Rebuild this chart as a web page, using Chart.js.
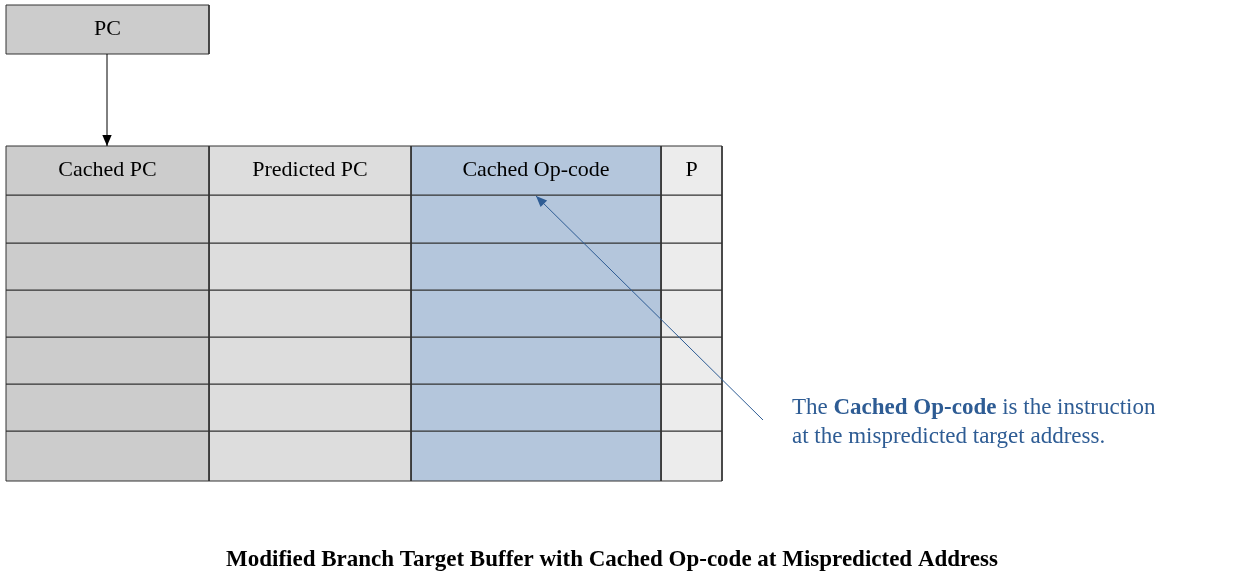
<!DOCTYPE html>
<html><head><meta charset="utf-8">
<script src="https://cdn.jsdelivr.net/npm/chart.js@4/dist/chart.umd.min.js"></script>
<style>body{margin:0;background:#fff}canvas{display:block}</style>
</head><body>
<canvas id="c" width="1242" height="577"></canvas>
<script>
// table geometry (diagram units = pixels of the reference)
const colEdges = [6, 209, 411, 661, 722];
const rowEdges = [146, 195, 243, 290, 337, 384, 431, 481];
const headers = ['Cached PC', 'Predicted PC', 'Cached Op-code', 'P'];
const colColors = ['#cccccc', '#dddddd', '#b4c6dc', '#ececec'];
const pcBox = [6, 5, 209, 54];
const noteLines = [['The ', 'Cached Op-code', ' is the instruction'], ['at the mispredicted target address.']];
const title = 'Modified Branch Target Buffer with Cached Op-code at Mispredicted Address';

function rect(x0, y0, x1, y1, fillColor) {
    return {
        data: [{x:x0,y:y0},{x:x1,y:y0},{x:x1,y:y1},{x:x0,y:y1},{x:x0,y:y0}],
        showLine: true, fill: 'shape', backgroundColor: fillColor,
        borderColor: '#333', borderWidth: 1, pointRadius: 0
    };
}

let datasets = [rect(pcBox[0], pcBox[1], pcBox[2], pcBox[3], '#cccccc')];
for (let c = 0; c < headers.length; c++) {
    for (let r = 0; r < rowEdges.length - 1; r++) {
        datasets.push(rect(colEdges[c], rowEdges[r], colEdges[c+1], rowEdges[r+1], colColors[c]));
    }
}

function arrow(ctx, x0, y0, x1, y1, color, w) {
    ctx.strokeStyle = color; ctx.fillStyle = color; ctx.lineWidth = w;
    ctx.beginPath(); ctx.moveTo(x0, y0); ctx.lineTo(x1, y1); ctx.stroke();
    const a = Math.atan2(y1 - y0, x1 - x0), L = 12, s = 0.4;
    ctx.beginPath(); ctx.moveTo(x1, y1);
    ctx.lineTo(x1 - L*Math.cos(a - s), y1 - L*Math.sin(a - s));
    ctx.lineTo(x1 - L*Math.cos(a + s), y1 - L*Math.sin(a + s));
    ctx.closePath(); ctx.fill();
}

const labels = {
    id: 'labels',
    afterDatasetsDraw(chart) {
        const ctx = chart.ctx, sx = chart.scales.x, sy = chart.scales.y;
        const X = v => sx.getPixelForValue(v), Y = v => sy.getPixelForValue(v);
        ctx.save();
        ctx.textAlign = 'center'; ctx.textBaseline = 'middle'; ctx.fillStyle = '#000';
        ctx.font = '22px "Liberation Serif", serif';
        ctx.fillText('PC', X((pcBox[0]+pcBox[2])/2), Y((pcBox[1]+pcBox[3])/2));
        for (let c = 0; c < headers.length; c++) {
            ctx.fillText(headers[c], X((colEdges[c]+colEdges[c+1])/2), Y((rowEdges[0]+rowEdges[1])/2));
        }
        arrow(ctx, X(107), Y(pcBox[3]), X(107), Y(rowEdges[0]), '#000', 1);
        arrow(ctx, X(763), Y(420), X(536), Y(196), '#2e5c94', 1);
        ctx.textAlign = 'left'; ctx.fillStyle = '#2e5c94';
        noteLines.forEach((parts, i) => {
            let x = X(792);
            parts.forEach((p, j) => {
                ctx.font = (j === 1 ? 'bold ' : '') + '23px "Liberation Serif", serif';
                ctx.fillText(p, x, Y(408 + i*29));
                x += ctx.measureText(p).width;
            });
        });
        ctx.textAlign = 'center'; ctx.fillStyle = '#000';
        ctx.font = 'bold 23px "Liberation Serif", serif';
        ctx.fillText(title, X(612), Y(560));
        ctx.restore();
    }
};

new Chart(document.getElementById('c'), {
    type: 'scatter',
    data: { datasets: datasets },
    options: {
        responsive: false, animation: false,
        layout: { padding: 0 },
        plugins: { legend: { display: false }, tooltip: { enabled: false } },
        scales: {
            x: { type: 'linear', min: 0, max: 1242, display: false },
            y: { type: 'linear', min: 0, max: 577, reverse: true, display: false }
        }
    },
    plugins: [labels]
});
</script>
</body></html>
